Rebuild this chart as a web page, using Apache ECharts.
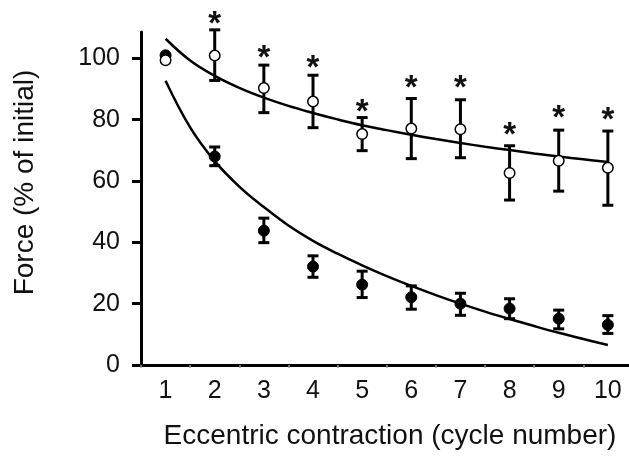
<!DOCTYPE html>
<html>
<head>
<meta charset="utf-8">
<script src="https://cdn.jsdelivr.net/npm/echarts@6/dist/echarts.min.js"></script>
<style>
html,body{margin:0;padding:0;background:#fff;}
#chart{width:629px;height:457px;}
</style>
</head>
<body>
<div id="chart"></div>
<script>
// ---- data ----
var cycles = [1, 2, 3, 4, 5, 6, 7, 8, 9, 10];
// filled circles
var filledMean = [101.0, 68.0, 43.8, 32.1, 26.2, 22.1, 20.0, 18.4, 15.1, 13.1];
var filledLow  = [null, 65.0, 39.9, 28.6, 22.0, 18.2, 16.2, 15.1, 11.8, 10.3];
var filledHigh = [null, 71.1, 47.9, 35.6, 30.6, 25.8, 23.4, 21.6, 17.9, 16.1];
// open circles
var openMean = [99.4, 100.9, 90.3, 85.9, 75.3, 77.1, 76.9, 62.6, 66.6, 64.3];
var openLow  = [null, 92.8, 82.3, 77.4, 69.9, 67.3, 67.6, 53.8, 56.7, 52.1];
var openHigh = [null, 109.3, 97.8, 94.5, 80.7, 86.9, 86.5, 71.5, 76.6, 76.3];
// significance asterisks (cycle, y position)
var starCycles = [2, 3, 4, 5, 6, 7, 8, 9, 10];
var starY = [113.2, 102.2, 98.7, 84.6, 92.2, 92.2, 77.0, 82.6, 82.0];
// fitted curves read at half-cycle steps
var curveX = [1, 1.5, 2, 2.5, 3, 3.5, 4, 4.5, 5, 5.5, 6, 6.5, 7, 7.5, 8, 8.5, 9, 9.5, 10];
var upperCurve = [106.4, 99.3, 94.3, 90.4, 87.2, 84.5, 82.2, 80.1, 78.2, 76.6, 75.1, 73.7, 72.4, 71.2, 70.1, 69.0, 68.0, 67.1, 66.2];
var lowerCurve = [92.7, 77.5, 66.5, 58.2, 51.5, 45.5, 40.5, 36.3, 32.5, 29.0, 25.8, 22.8, 20.0, 17.4, 15.0, 12.7, 10.5, 8.5, 6.5];
// axis ticks
var yTicks = [0, 20, 40, 60, 80, 100];
var xTickMarks = [0.5, 1.5, 2.5, 3.5, 4.5, 5.5, 6.5, 7.5, 8.5, 9.5];
var xLabels = [1, 2, 3, 4, 5, 6, 7, 8, 9, 10];
var xTitle = 'Eccentric contraction (cycle number)';
var yTitle = 'Force (% of initial)';

// ---- build ----
var FONT = '"Liberation Sans", Arial, Helvetica, sans-serif';
var INK = '#111';

function zip2(a, b) { return a.map(function (v, i) { return [v, b[i]]; }); }
function errData(low, high) {
  var out = [];
  cycles.forEach(function (c, i) { if (low[i] != null) out.push([c, low[i], high[i]]); });
  return out;
}
function errRender(params, api) {
  var x = api.value(0);
  var pLo = api.coord([x, api.value(1)]);
  var pHi = api.coord([x, api.value(2)]);
  var w = 5.5;
  var st = { stroke: '#000', lineWidth: 3 };
  return {
    type: 'group',
    children: [
      { type: 'line', shape: { x1: pHi[0], y1: pHi[1], x2: pLo[0], y2: pLo[1] }, style: st },
      { type: 'line', shape: { x1: pHi[0] - w, y1: pHi[1], x2: pHi[0] + w, y2: pHi[1] }, style: st },
      { type: 'line', shape: { x1: pLo[0] - w, y1: pLo[1], x2: pLo[0] + w, y2: pLo[1] }, style: st }
    ]
  };
}
function starRender(params, api) {
  var p = api.coord([api.value(0), api.value(1)]);
  return {
    type: 'text',
    x: p[0], y: p[1] + 7,
    style: { text: '*', font: 'bold 33px ' + FONT, fill: INK, align: 'center', verticalAlign: 'middle' }
  };
}

var chart = echarts.init(document.getElementById('chart'), null, { renderer: 'canvas' });
chart.setOption({
  animation: false,
  backgroundColor: '#fff',
  grid: { left: 141, right: 0, top: 32, bottom: 92, containLabel: false },
  xAxis: {
    type: 'value', min: 0.5, max: 10.43,
    axisLine: { show: true, lineStyle: { color: '#000', width: 3 } },
    axisTick: { show: true, customValues: xTickMarks, length: 3, lineStyle: { color: '#999', width: 1.5 } },
    axisLabel: { customValues: xLabels, margin: 14, fontSize: 25, fontFamily: FONT, color: INK },
    splitLine: { show: false }
  },
  yAxis: {
    type: 'value', min: 0, max: 108.6,
    axisLine: { show: true, lineStyle: { color: '#000', width: 3 } },
    axisTick: { show: true, customValues: yTicks, length: 9, lineStyle: { color: '#000', width: 3 } },
    axisLabel: { customValues: yTicks, margin: 21, fontSize: 25, fontFamily: FONT, color: INK },
    splitLine: { show: false }
  },
  graphic: [
    { type: 'text', x: 390, y: 436, style: { text: xTitle, font: '28px ' + FONT, fill: INK, align: 'center', verticalAlign: 'middle' } },
    { type: 'text', x: 25.5, y: 182.5, rotation: Math.PI / 2, style: { text: yTitle, font: '28px ' + FONT, fill: INK, align: 'center', verticalAlign: 'middle' } }
  ],
  series: [
    { type: 'custom', name: 'filledErr', renderItem: errRender, data: errData(filledLow, filledHigh), z: 2 },
    { type: 'custom', name: 'openErr', renderItem: errRender, data: errData(openLow, openHigh), z: 2 },
    { type: 'line', name: 'upperFit', data: zip2(curveX, upperCurve), smooth: 0.4, showSymbol: false, symbol: 'none',
      lineStyle: { color: '#000', width: 2.5 }, z: 3 },
    { type: 'line', name: 'lowerFit', data: zip2(curveX, lowerCurve), smooth: 0.4, showSymbol: false, symbol: 'none',
      lineStyle: { color: '#000', width: 2.5 }, z: 3 },
    { type: 'scatter', name: 'filled', data: zip2(cycles, filledMean), symbol: 'circle', symbolSize: 11,
      itemStyle: { color: '#000', borderColor: '#000', borderWidth: 1, opacity: 1 }, z: 4 },
    { type: 'scatter', name: 'open', data: zip2(cycles, openMean), symbol: 'circle', symbolSize: 10.5,
      itemStyle: { color: '#fff', borderColor: '#000', borderWidth: 1.5, opacity: 1 }, z: 5 },
    { type: 'custom', name: 'stars', renderItem: starRender, data: zip2(starCycles, starY), z: 6 }
  ]
});
</script>
</body>
</html>
